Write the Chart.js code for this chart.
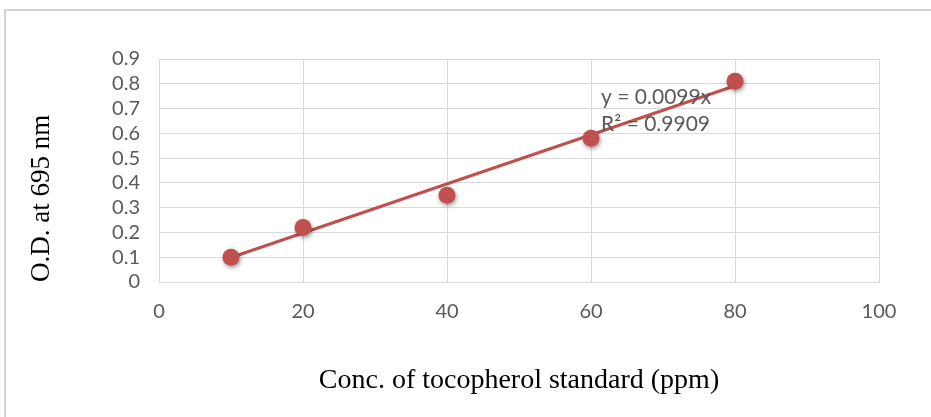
<!DOCTYPE html>
<html>
<head>
<meta charset="utf-8">
<script src="https://cdn.jsdelivr.net/npm/chart.js@4.4.1/dist/chart.umd.min.js"></script>
<style>
  html, body { margin: 0; padding: 0; background: #fff; }
  #wrap { width: 931px; height: 417px; position: relative; }
</style>
</head>
<body>
<div id="wrap"><canvas id="odChart"></canvas></div>
<script>
// Standard curve data
const conc = [10, 20, 40, 60, 80];
const od = [0.10, 0.22, 0.35, 0.58, 0.81];
const xTickLabels = ["0", "20", "40", "60", "80", "100"];
const yTickLabels = ["0", "0.1", "0.2", "0.3", "0.4", "0.5", "0.6", "0.7", "0.8", "0.9"];
const trendSlope = 0.0099;
const trendEq = ["y = 0.0099x", "R² = 0.9909"];

const red = "#C0504D";
const gridGrey = "#d9d9d9";
const tickGrey = "#595959";

// outer frame like the pasted Excel chart
const framePlugin = {
  id: "frame",
  beforeDraw(chart) {
    const c = chart.ctx;
    c.save();
    c.fillStyle = "#fff";
    c.fillRect(0, 0, chart.width, chart.height);
    c.strokeStyle = "#d4d4d4";
    c.lineWidth = 2;
    c.beginPath();
    c.moveTo(5, chart.height);
    c.lineTo(5, 10);
    c.lineTo(chart.width, 10);
    c.stroke();
    c.restore();
  }
};

// drop shadow on the markers only
const shadowPlugin = {
  id: "markerShadow",
  beforeDatasetDraw(chart, args) {
    if (args.index !== 0) return;
    const c = chart.ctx;
    c.save();
    c.shadowColor = "rgba(0,0,0,0.4)";
    c.shadowBlur = 4;
    c.shadowOffsetX = 1;
    c.shadowOffsetY = 2;
  },
  afterDatasetDraw(chart, args) {
    if (args.index !== 0) return;
    chart.ctx.restore();
  }
};

// trendline equation label
const eqPlugin = {
  id: "eqLabel",
  afterDatasetsDraw(chart) {
    const c = chart.ctx;
    const x = chart.scales.x.getPixelForValue(61.4);
    const y = chart.scales.y.getPixelForValue(0.747);
    c.save();
    c.fillStyle = tickGrey;
    c.font = "21px Lato";
    c.textBaseline = "middle";
    c.fillText(trendEq[0], x, y);
    c.fillText(trendEq[1], x, y + 27);
    c.restore();
  }
};

const ctx = document.getElementById("odChart").getContext("2d");
const odChart = new Chart(ctx, {
  type: "scatter",
  data: {
    datasets: [{
      label: "O.D.",
      data: conc.map((v, i) => ({ x: v, y: od[i] })),
      backgroundColor: red,
      borderColor: red,
      pointRadius: 8.5,
      pointBorderWidth: 0,
      order: 0,
    }, {
      type: "line",
      label: "Trend",
      data: [conc[0], conc[conc.length - 1]].map(v => ({ x: v, y: trendSlope * v })),
      borderColor: red,
      borderWidth: 3,
      pointRadius: 0,
      fill: false,
      order: 1,
    }],
  },
  options: {
    responsive: true,
    maintainAspectRatio: false,
    animation: false,
    layout: { padding: { left: 20, top: 59, right: 52, bottom: 0 } },
    plugins: {
      legend: { display: false },
      tooltip: { enabled: false },
    },
    scales: {
      x: {
        type: "linear",
        min: 0,
        max: 100,
        afterFit: (s) => { s.height = 135; },
        ticks: {
          stepSize: 20,
          autoSkip: false,
          color: tickGrey,
          font: { family: "Lato", size: 20 },
          padding: 18,
          callback: (v) => xTickLabels[v / 20],
        },
        grid: { color: gridGrey, drawTicks: false },
        border: { color: gridGrey },
        title: {
          display: true,
          text: "Conc. of tocopherol standard (ppm)",
          color: "#000",
          font: { family: "Liberation Serif", size: 28 },
          padding: { bottom: 20 },
        },
      },
      y: {
        min: 0,
        max: 0.9,
        afterFit: (s) => { s.width = 139; },
        ticks: {
          stepSize: 0.1,
          autoSkip: false,
          color: tickGrey,
          font: { family: "Lato", size: 20 },
          padding: 19,
          callback: (v) => yTickLabels[Math.round(v * 10)],
        },
        grid: { color: gridGrey, drawTicks: false },
        border: { color: gridGrey },
        title: {
          display: true,
          text: "O.D. at 695 nm",
          align: "start",
          color: "#000",
          font: { family: "Liberation Serif", size: 27 },
          padding: { top: 6 },
        },
      },
    },
  },
  plugins: [framePlugin, shadowPlugin, eqPlugin],
});
</script>
</body>
</html>
